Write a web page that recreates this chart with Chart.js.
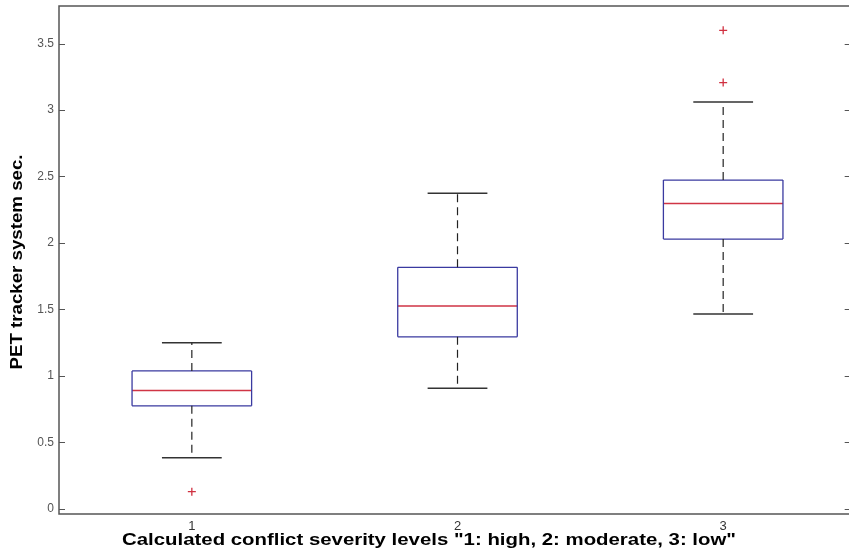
<!DOCTYPE html>
<html>
<head>
<meta charset="utf-8">
<script src="https://cdn.jsdelivr.net/npm/chart.js@4.4.1/dist/chart.umd.min.js"></script>
<style>
  html, body { margin: 0; padding: 0; background: #fff; overflow: hidden; }
  #wrap { width: 856px; height: 554px; }
</style>
</head>
<body>
<div id="wrap"><canvas id="boxChart"></canvas></div>
<script>
// 数据
const categories = ['1', '2', '3'];
const positions = [1, 2, 3];
const lowerWhisker = [0.383, 0.907, 1.466];
const q1 = [0.774, 1.293, 2.029];
const median = [0.889, 1.526, 2.297];
const q3 = [1.037, 1.816, 2.473];
const upperWhisker = [1.248, 2.373, 3.061];
const outliers = [[0.128], [], [3.207, 3.600]];
const yTicks = [0, 0.5, 1, 1.5, 2, 2.5, 3, 3.5];

const xLabel = 'Calculated conflict severity levels "1: high, 2: moderate, 3: low"';
const yLabel = 'PET tracker system sec.';

const boxHalf = 0.225;
const capHalf = 0.1125;

// 把若干线段拼成一个数据集，中间用 null 断开
function segments(list) {
    const out = [];
    list.forEach(s => {
        out.push({ x: s[0], y: s[1] }, { x: s[2], y: s[3] }, { x: s[2], y: null });
    });
    return out;
}

const boxSegs = [], medSegs = [], whiskSegs = [], capSegs = [], outPts = [];
positions.forEach((p, i) => {
    const l = p - boxHalf, r = p + boxHalf;
    boxSegs.push([l, q1[i], r, q1[i]], [r, q1[i], r, q3[i]], [r, q3[i], l, q3[i]], [l, q3[i], l, q1[i]]);
    medSegs.push([l, median[i], r, median[i]]);
    whiskSegs.push([p, q3[i], p, upperWhisker[i]], [p, q1[i], p, lowerWhisker[i]]);
    capSegs.push([p - capHalf, upperWhisker[i], p + capHalf, upperWhisker[i]],
                 [p - capHalf, lowerWhisker[i], p + capHalf, lowerWhisker[i]]);
    outliers[i].forEach(v => outPts.push({ x: p, y: v }));
});

const lineBase = { pointRadius: 0, fill: false, tension: 0, spanGaps: false };

// 边框、内向刻度和坐标轴标题
const framePlugin = {
    id: 'frame',
    afterDraw(chart) {
        const ctx = chart.ctx;
        const a = chart.chartArea;
        const y = chart.scales.y;
        ctx.save();
        ctx.strokeStyle = '#555';
        ctx.lineWidth = 1.5;
        ctx.strokeRect(a.left, a.top, a.right - a.left, a.bottom - a.top);
        ctx.lineWidth = 1;
        yTicks.forEach(v => {
            const py = Math.round(y.getPixelForValue(v)) + 0.5;
            ctx.beginPath();
            ctx.moveTo(a.left, py); ctx.lineTo(a.left + 6, py);
            ctx.moveTo(a.right, py); ctx.lineTo(a.right - 6, py);
            ctx.stroke();
        });

        ctx.fillStyle = '#000';
        ctx.font = 'bold 16px "Liberation Sans", Arial, sans-serif';
        ctx.textAlign = 'center';
        ctx.textBaseline = 'middle';
        // x 轴标题
        let w = ctx.measureText(xLabel).width;
        ctx.save();
        ctx.translate(429, 541);
        ctx.scale(614 / w, 1);
        ctx.fillText(xLabel, 0, 0);
        ctx.restore();
        // y 轴标题
        w = ctx.measureText(yLabel).width;
        ctx.save();
        ctx.translate(18, 262);
        ctx.rotate(-Math.PI / 2);
        ctx.scale(215 / w, 1);
        ctx.fillText(yLabel, 0, 0);
        ctx.restore();
        ctx.restore();
    }
};

new Chart(document.getElementById('boxChart').getContext('2d'), {
    type: 'line',
    data: {
        datasets: [
            Object.assign({ data: segments(whiskSegs), borderColor: '#222', borderWidth: 1.2, borderDash: [8, 5] }, lineBase),
            Object.assign({ data: segments(capSegs), borderColor: '#333', borderWidth: 1.5 }, lineBase),
            Object.assign({ data: segments(boxSegs), borderColor: '#3a3aa0', borderWidth: 1.3 }, lineBase),
            Object.assign({ data: segments(medSegs), borderColor: '#d03545', borderWidth: 1.5 }, lineBase),
            {
                data: outPts,
                showLine: false,
                pointStyle: 'cross',
                pointRadius: 4,
                pointBorderColor: '#d03040',
                pointBorderWidth: 1.3
            }
        ]
    },
    options: {
        responsive: true,
        maintainAspectRatio: false,
        animation: false,
        layout: { padding: { top: 6, right: 3, left: 0, bottom: 0 } },
        plugins: { legend: { display: false }, tooltip: { enabled: false } },
        scales: {
            x: {
                type: 'linear',
                min: 0.5,
                max: 3.48,
                grid: { display: false, drawTicks: false },
                border: { display: false },
                afterBuildTicks: s => { s.ticks = positions.map(v => ({ value: v })); },
                afterFit: s => { s.height = 40; s.paddingLeft = 0; s.paddingRight = 0; },
                ticks: {
                    padding: 5,
                    color: '#333',
                    font: { size: 13, family: '"Liberation Sans", Arial, sans-serif' },
                    callback: (v, i) => categories[i]
                }
            },
            y: {
                min: -0.04,
                max: 3.783,
                grid: { display: false, drawTicks: false },
                border: { display: false },
                afterBuildTicks: s => { s.ticks = yTicks.map(v => ({ value: v })); },
                afterFit: s => { s.width = 59; s.paddingTop = 0; s.paddingBottom = 0; },
                ticks: {
                    padding: 5,
                    color: '#555',
                    font: { size: 12, family: '"Liberation Sans", Arial, sans-serif' },
                    callback: v => String(v)
                }
            }
        }
    },
    plugins: [framePlugin]
});
</script>
</body>
</html>
